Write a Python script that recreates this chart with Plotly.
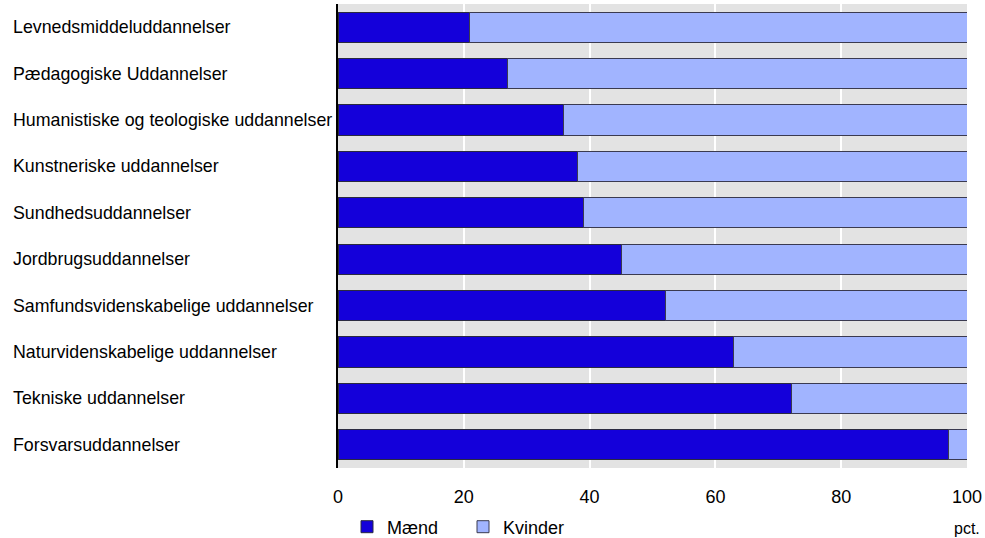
import plotly.graph_objects as go

categories = [
    "Levnedsmiddeluddannelser",
    "Pædagogiske Uddannelser",
    "Humanistiske og teologiske uddannelser",
    "Kunstneriske uddannelser",
    "Sundhedsuddannelser",
    "Jordbrugsuddannelser",
    "Samfundsvidenskabelige uddannelser",
    "Naturvidenskabelige uddannelser",
    "Tekniske uddannelser",
    "Forsvarsuddannelser",
]
maend = [20.9, 27.0, 35.9, 38.1, 39.0, 45.0, 52.1, 62.8, 72.1, 97.1]
kvinder = [79.1, 73.0, 64.1, 61.9, 61.0, 55.0, 47.9, 37.2, 27.9, 2.9]
x_ticks = [0, 20, 40, 60, 80, 100]
series_names = ["Mænd", "Kvinder"]
unit_label = "pct."

FONT = "Liberation Sans, Arial, sans-serif"
W, H = 985, 538
L, R, T, B = 338, 18, 4, 70
PH = H - T - B

fig = go.Figure()
fig.add_trace(go.Bar(
    y=categories, x=maend, name=series_names[0], orientation="h",
    marker=dict(color="#1400DA", line=dict(color="#2a2a40", width=1)),
))
fig.add_trace(go.Bar(
    y=categories, x=kvinder, name=series_names[1], orientation="h",
    marker=dict(color="#A1B4FF", line=dict(color="#3a3a50", width=1)),
))

annotations = []
plot_w = W - L - R
for c in categories:
    annotations.append(dict(
        text=c, x=(11 - L) / plot_w, xref="paper", y=c, yref="y",
        xanchor="left", yanchor="middle", showarrow=False,
        font=dict(family=FONT, size=17.8, color="#000"),
    ))
annotations.append(dict(
    text=unit_label, x=100, xref="x", y=(468 - 528) / PH, yref="paper",
    xanchor="center", yanchor="middle", showarrow=False,
    font=dict(family=FONT, size=16, color="#000"),
))

fig.update_layout(
    width=W, height=H,
    margin=dict(l=L, r=R, t=T, b=B, autoexpand=False),
    barmode="stack", bargap=0.35,
    plot_bgcolor="#E3E3E3", paper_bgcolor="#FFFFFF",
    font=dict(family=FONT, size=18, color="#000"),
    showlegend=True,
    legend=dict(
        orientation="h", x=(347 - L) / plot_w, xanchor="left",
        yref="container", y=(H - 527) / H, yanchor="middle",
        font=dict(family=FONT, size=18, color="#000"),
        entrywidth=71, entrywidthmode="pixels",
        bgcolor="rgba(0,0,0,0)", traceorder="normal",
    ),
    annotations=annotations,
    xaxis=dict(
        range=[0, 100], tickvals=x_ticks, ticktext=[str(v) for v in x_ticks],
        showgrid=True, gridcolor="#FFFFFF", gridwidth=2,
        zeroline=False, showline=False,
        ticks="outside", ticklen=12, tickcolor="rgba(0,0,0,0)",
        tickfont=dict(family=FONT, size=18, color="#000"),
        fixedrange=True, automargin=False,
    ),
    yaxis=dict(
        categoryorder="array", categoryarray=categories, autorange="reversed",
        showticklabels=False, showgrid=False, zeroline=False,
        showline=True, linecolor="#000", linewidth=1.5, ticks="",
        fixedrange=True, automargin=False,
    ),
)

fig.write_html(
    "out.html",
    config={"displayModeBar": False},
    post_script="document.body.style.margin='0';document.body.style.overflow='hidden';",
)
